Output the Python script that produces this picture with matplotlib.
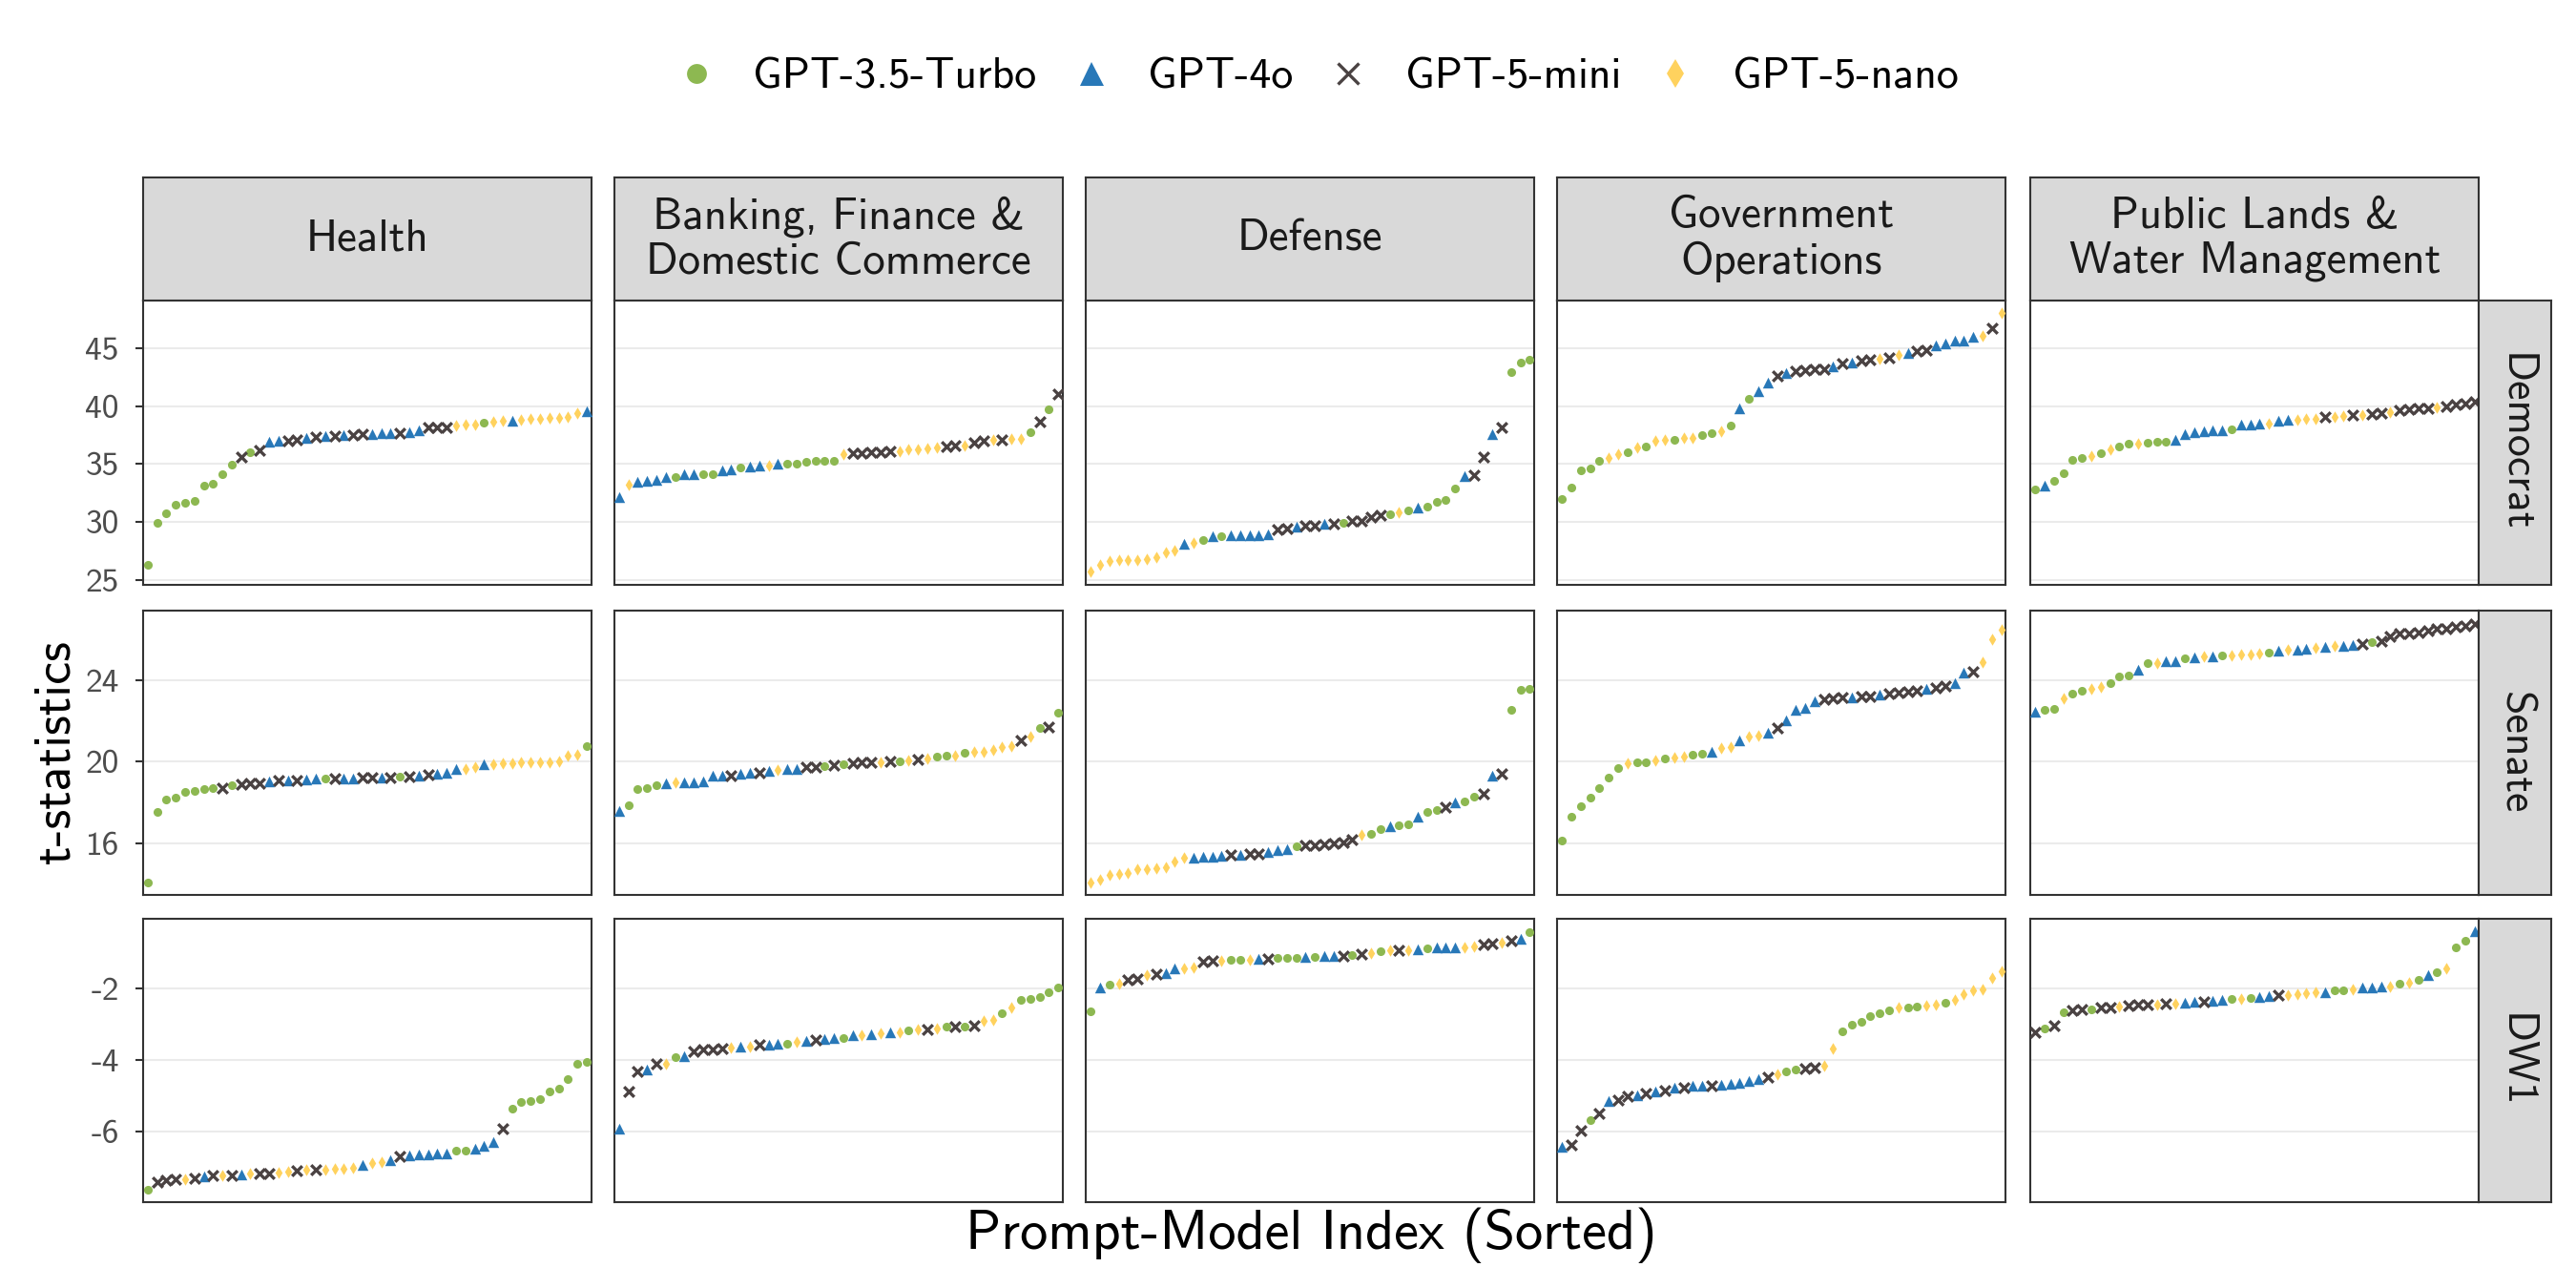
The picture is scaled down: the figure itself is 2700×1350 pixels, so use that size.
import numpy as np
import matplotlib
matplotlib.use("Agg")
import matplotlib.pyplot as plt
from matplotlib.lines import Line2D

plt.rcParams['font.family'] = ['cmss10', 'DejaVu Sans']
plt.rcParams['axes.unicode_minus'] = False
plt.rcParams['mathtext.fontset'] = 'cm'

# facets
topics = ["Health", "Banking, Finance &\nDomestic Commerce", "Defense",
          "Government\nOperations", "Public Lands &\nWater Management"]
outcomes = ["Democrat", "Senate", "DW1"]
model_names = ["GPT-3.5-Turbo", "GPT-4o", "GPT-5-mini", "GPT-5-nano"]
model_codes = ["g", "b", "x", "y"]

row_ticks = [[25, 30, 35, 40, 45], [16, 20, 24], [-6, -4, -2]]

# sorted t-statistics per panel, with the model of each point (g/b/x/y)
health_dem_m = "ggggggggggxgxbbxxbxbxbxxbbbxbbxxxyyygyybyyyyyyyb"
health_dem = [26.3, 29.95, 30.8, 31.5, 31.65, 31.85, 33.15, 33.35, 34.1, 34.95, 35.65, 36.0,
              36.2, 36.95, 37.0, 37.03, 37.05, 37.25, 37.3, 37.4, 37.42, 37.52, 37.54, 37.57,
              37.62, 37.64, 37.66, 37.68, 37.72, 37.95, 38.12, 38.15, 38.18, 38.3, 38.38, 38.43,
              38.6, 38.65, 38.7, 38.76, 38.79, 38.86, 38.93, 38.96, 38.98, 39.03, 39.38, 39.57]

banking_dem_m = "bybbbbgbbggbbgbbybggggggyxxxxxyyyyyxxyxxyxyygxgx"
banking_dem = [32.2, 33.2, 33.5, 33.55, 33.65, 33.88, 33.92, 34.1, 34.12, 34.14, 34.16, 34.5,
               34.52, 34.7, 34.82, 34.84, 34.86, 35.03, 35.05, 35.07, 35.22, 35.25, 35.27, 35.32,
               35.85, 35.92, 35.95, 36.0, 36.03, 36.08, 36.14, 36.27, 36.3, 36.33, 36.4, 36.54,
               36.57, 36.62, 36.86, 37.0, 37.08, 37.12, 37.14, 37.16, 37.76, 38.68, 39.7, 41.05]

defense_dem_m = "yyyyyyyyyybygbgbbbbbxxbxxbxgxxxxgygbggggbxxbxggg"
defense_dem = [25.73, 26.32, 26.68, 26.72, 26.74, 26.78, 26.86, 27.0, 27.43, 27.54, 28.16, 28.2,
               28.43, 28.78, 28.82, 28.84, 28.88, 28.9, 28.92, 28.95, 29.38, 29.43, 29.65, 29.72,
               29.74, 29.86, 29.89, 29.97, 30.1, 30.14, 30.46, 30.6, 30.65, 30.86, 31.05, 31.24,
               31.35, 31.76, 31.95, 32.9, 34.0, 34.05, 35.62, 37.59, 38.14, 42.89, 43.76, 43.97]

govops_dem_m = "gggggyygygyygyyggygbgbbxbxxxxbxbxxyxybxxbbbbbyxy"
govops_dem = [32.03, 32.95, 34.43, 34.59, 35.27, 35.51, 35.86, 36.03, 36.46, 36.51, 37.03, 37.05,
              37.07, 37.22, 37.27, 37.49, 37.7, 37.86, 38.3, 39.76, 40.65, 41.27, 42.03, 42.57,
              42.81, 43.0, 43.08, 43.14, 43.18, 43.43, 43.65, 43.78, 43.89, 43.97, 44.08, 44.16,
              44.43, 44.59, 44.7, 44.84, 45.19, 45.38, 45.59, 45.65, 45.97, 46.05, 46.68, 47.97]

lands_dem_m = "gbggggygyggyggg" + "bbbbbbgbbbybbyyyxyyxyxxyxxxxyxxxx"
lands_dem = [32.81, 33.16, 33.57, 34.19, 35.38, 35.51, 35.73, 35.95, 36.3, 36.49, 36.73, 36.8,
             36.82, 36.89, 36.92, 37.08, 37.57, 37.73, 37.81, 37.89, 37.94, 37.97, 38.42, 38.44,
             38.48, 38.5, 38.76, 38.78, 38.84, 38.89, 38.92, 39.08, 39.1, 39.16, 39.19, 39.24,
             39.32, 39.41, 39.49, 39.65, 39.73, 39.78, 39.84, 39.92, 39.97, 40.11, 40.24, 40.38]

health_sen_m = "ggggggggxgxxxbxbxbbgxbbxxbxgxbxbbbyybyyyyyyyyyyg"
health_sen = [14.09, 17.55, 18.12, 18.22, 18.52, 18.55, 18.65, 18.68, 18.71, 18.82, 18.89, 18.93,
              18.95, 19.05, 19.06, 19.08, 19.09, 19.14, 19.15, 19.16, 19.17, 19.18, 19.19, 19.2,
              19.21, 19.22, 19.23, 19.24, 19.25, 19.32, 19.34, 19.42, 19.44, 19.63, 19.65, 19.71,
              19.85, 19.87, 19.91, 19.93, 19.94, 19.95, 19.96, 19.98, 20.03, 20.28, 20.34, 20.75]

banking_sen_m = "bggggbybbbbbxbbxbybbxxgxgxxxyxgyxyggygyyyyyxygxg"
banking_sen = [17.57, 17.86, 18.66, 18.68, 18.82, 18.94, 18.96, 18.99, 19.0, 19.05, 19.3, 19.32,
               19.33, 19.38, 19.43, 19.45, 19.55, 19.57, 19.62, 19.64, 19.73, 19.75, 19.78, 19.82,
               19.86, 19.92, 19.94, 19.96, 19.97, 20.0, 20.02, 20.06, 20.12, 20.17, 20.22, 20.28,
               20.31, 20.45, 20.47, 20.49, 20.55, 20.71, 20.74, 21.02, 21.2, 21.63, 21.71, 22.4]

defense_sen_m = "yyyyyyyyyyybbbbxbxxbbbgxxxxxxyggbggbggxbggxbxggg"
defense_sen = [14.09, 14.2, 14.45, 14.5, 14.52, 14.73, 14.75, 14.78, 14.82, 15.09, 15.29, 15.31,
               15.33, 15.35, 15.4, 15.42, 15.44, 15.47, 15.49, 15.55, 15.66, 15.71, 15.86, 15.9,
               15.92, 15.94, 15.97, 16.06, 16.2, 16.4, 16.45, 16.68, 16.82, 16.86, 16.91, 17.29,
               17.51, 17.63, 17.75, 18.02, 18.06, 18.29, 18.4, 19.32, 19.4, 22.55, 23.51, 23.58]

govops_sen_m = "gggggggyggygyyggbyybyybxbbbbxxxbxxbxxxxbxxbbxyyy"
govops_sen = [16.14, 17.29, 17.83, 18.22, 18.71, 19.2, 19.69, 19.93, 19.95, 19.97, 20.05, 20.14,
              20.18, 20.25, 20.34, 20.37, 20.48, 20.68, 20.71, 21.02, 21.2, 21.25, 21.43, 21.63,
              22.02, 22.55, 22.63, 22.94, 23.06, 23.09, 23.12, 23.16, 23.18, 23.2, 23.28, 23.32,
              23.38, 23.43, 23.48, 23.55, 23.6, 23.71, 23.86, 24.36, 24.38, 24.86, 25.97, 26.43]

lands_sen_m = "bggyggyygggbgybbgbybgyyyygbybbybybbxgxxxxxxxxxxx"
lands_sen = [22.45, 22.52, 22.58, 23.09, 23.32, 23.45, 23.55, 23.66, 23.82, 24.15, 24.22, 24.48,
             24.81, 24.83, 24.91, 24.93, 25.05, 25.12, 25.14, 25.16, 25.17, 25.18, 25.22, 25.25,
             25.28, 25.35, 25.44, 25.46, 25.48, 25.51, 25.55, 25.62, 25.64, 25.67, 25.69, 25.74,
             25.83, 25.89, 26.14, 26.25, 26.28, 26.32, 26.4, 26.48, 26.51, 26.58, 26.66, 26.74]

health_dw1_m = "gxxxyxbxyxbyxxyyxyxyyyybyybxbbbbbggbbbxggggggggg"
health_dw1 = [-7.61, -7.39, -7.35, -7.33, -7.31, -7.28, -7.23, -7.22, -7.21, -7.2, -7.18, -7.17,
              -7.17, -7.16, -7.12, -7.11, -7.07, -7.05, -7.04, -7.04, -7.03, -7.02, -7.01, -6.91,
              -6.86, -6.84, -6.79, -6.69, -6.64, -6.63, -6.62, -6.61, -6.59, -6.53, -6.52, -6.47,
              -6.38, -6.28, -5.91, -5.36, -5.15, -5.13, -5.08, -4.88, -4.78, -4.53, -4.1, -4.05]

banking_dw1_m = "bxxbxygbxxxxybyxbbgybxbbgbybybygyxygxgxyygyggggg"
banking_dw1 = [-5.91, -4.86, -4.3, -4.25, -4.1, -4.09, -3.92, -3.88, -3.75, -3.71, -3.69, -3.66,
               -3.64, -3.62, -3.61, -3.57, -3.56, -3.55, -3.53, -3.48, -3.45, -3.44, -3.4, -3.38,
               -3.37, -3.31, -3.29, -3.26, -3.25, -3.22, -3.21, -3.16, -3.14, -3.13, -3.11, -3.07,
               -3.06, -3.05, -3.03, -2.9, -2.86, -2.68, -2.52, -2.31, -2.28, -2.24, -2.09, -1.97]

defense_dw1_m = "gbgyxxyxbbyyxxyggybxgggbgbbxgxygyxybgbbbyyxxyxbg"
defense_dw1 = [-2.64, -1.97, -1.9, -1.87, -1.75, -1.73, -1.62, -1.6, -1.56, -1.44, -1.43, -1.41,
               -1.26, -1.23, -1.21, -1.2, -1.2, -1.19, -1.18, -1.17, -1.15, -1.15, -1.14, -1.12,
               -1.12, -1.1, -1.1, -1.09, -1.07, -1.04, -1.0, -0.96, -0.94, -0.93, -0.92, -0.89,
               -0.87, -0.86, -0.85, -0.84, -0.84, -0.82, -0.76, -0.75, -0.73, -0.67, -0.6, -0.43]

govops_dw1_m = "bxxgxbxxbxbxbxbbxbbbbbxyggxxyygggggg" + "yggyygyyyyyy"
govops_dw1 = [-6.41, -6.37, -5.95, -5.67, -5.48, -5.13, -5.1, -5.01, -4.97, -4.93, -4.86, -4.84,
              -4.77, -4.75, -4.72, -4.71, -4.7, -4.69, -4.66, -4.62, -4.58, -4.53, -4.46, -4.4,
              -4.31, -4.27, -4.24, -4.21, -4.14, -3.66, -3.18, -3.0, -2.92, -2.77, -2.7, -2.62,
              -2.54, -2.52, -2.51, -2.48, -2.44, -2.39, -2.31, -2.16, -2.04, -2.03, -1.69, -1.52]

lands_dw1_m = "xgxgxxgxxyxxxyxybbxbbgygbbxyyyybggybbbygygbgyggb"
lands_dw1 = [-3.21, -3.12, -3.02, -2.66, -2.61, -2.59, -2.57, -2.54, -2.52, -2.5, -2.47, -2.46,
             -2.45, -2.44, -2.43, -2.42, -2.39, -2.38, -2.37, -2.33, -2.31, -2.3, -2.28, -2.26,
             -2.24, -2.2, -2.19, -2.18, -2.16, -2.13, -2.11, -2.09, -2.06, -2.05, -2.03, -1.98,
             -1.96, -1.94, -1.93, -1.87, -1.83, -1.76, -1.62, -1.55, -1.43, -0.84, -0.67, -0.4]

panels = [
    [(health_dem_m, health_dem), (banking_dem_m, banking_dem), (defense_dem_m, defense_dem),
     (govops_dem_m, govops_dem), (lands_dem_m, lands_dem)],
    [(health_sen_m, health_sen), (banking_sen_m, banking_sen), (defense_sen_m, defense_sen),
     (govops_sen_m, govops_sen), (lands_sen_m, lands_sen)],
    [(health_dw1_m, health_dw1), (banking_dw1_m, banking_dw1), (defense_dw1_m, defense_dw1),
     (govops_dw1_m, govops_dw1), (lands_dw1_m, lands_dw1)],
]

# styles for each model
colors = {"g": "#8DB851", "b": "#2878B8", "x": "#4A4242", "y": "#FFD25E"}
markers = {"g": "o", "b": "^", "x": "x", "y": "d"}
sizes = {"g": 19, "b": 30, "x": 26, "y": 18}

border = "#333333"
fig = plt.figure(figsize=(18, 9), dpi=150)

col_left = [0.0555, 0.2385, 0.4216, 0.6046, 0.7883]
pw = 0.1741
row_bottom = [0.546, 0.305, 0.0663]
ph = 0.2207

for r in range(3):
    allv = np.concatenate([np.array(p[1]) for p in panels[r]])
    lo, hi = allv.min(), allv.max()
    pad = 0.05 * (hi - lo)
    for c in range(5):
        ax = fig.add_axes([col_left[c], row_bottom[r], pw, ph])
        codes, vals = panels[r][c]
        vals = np.array(vals)
        idx = np.arange(1, len(vals) + 1)
        for code in model_codes:
            mask = np.array([ch == code for ch in codes])
            if code == "x":
                ax.scatter(idx[mask], vals[mask], marker="x", s=sizes[code],
                           color=colors[code], linewidths=1.6, zorder=3)
            else:
                ax.scatter(idx[mask], vals[mask], marker=markers[code], s=sizes[code],
                           color=colors[code], linewidths=0, zorder=3)
        ax.set_xlim(0.5, len(vals) + 0.5)
        ax.set_ylim(lo - pad, hi + pad)
        ax.set_yticks(row_ticks[r])
        ax.grid(axis="y", color="#EBEBEB", linewidth=1.0, zorder=0)
        ax.set_axisbelow(True)
        ax.set_xticks([])
        for sp in ax.spines.values():
            sp.set_color(border)
            sp.set_linewidth(1.0)
        if c == 0:
            ax.tick_params(axis="y", length=4, width=1.0, color=border,
                           labelsize=17, labelcolor="#4D4D4D", pad=8)
        else:
            ax.tick_params(axis="y", length=0, labelleft=False)

        # top strips
        if r == 0:
            sax = fig.add_axes([col_left[c], 0.7666, pw, 0.0957])
            sax.set_facecolor("#D9D9D9")
            sax.set_xticks([])
            sax.set_yticks([])
            for sp in sax.spines.values():
                sp.set_color(border)
                sp.set_linewidth(1.0)
            sax.text(0.5, 0.5, topics[c], ha="center", va="center", fontsize=22.5,
                     color="#1A1A1A", transform=sax.transAxes, linespacing=1.15)

    # right strips
    rax = fig.add_axes([0.9624, row_bottom[r], 0.0281, ph])
    rax.set_facecolor("#D9D9D9")
    rax.set_xticks([])
    rax.set_yticks([])
    for sp in rax.spines.values():
        sp.set_color(border)
        sp.set_linewidth(1.0)
    rax.text(0.5, 0.5, outcomes[r], ha="center", va="center", fontsize=22,
             color="#1A1A1A", rotation=-90, transform=rax.transAxes)

# legend
handles = []
leg_sizes = {"g": 10, "b": 12, "x": 11, "y": 10}
for code, name in zip(model_codes, model_names):
    handles.append(Line2D([], [], linestyle="none", marker=markers[code],
                          markersize=leg_sizes[code], color=colors[code],
                          markeredgewidth=1.6 if code == "x" else 0, label=name))
fig.legend(handles=handles, loc="center", bbox_to_anchor=(0.511, 0.94), ncol=4,
           frameon=False, fontsize=22, handlelength=1.0, handletextpad=0.8,
           columnspacing=0.75)

fig.text(0.022, 0.4165, "t-statistics", rotation=90, ha="center", va="center", fontsize=26)
fig.text(0.509, 0.041, "Prompt-Model Index (Sorted)", ha="center", va="center", fontsize=28)

fig.savefig("out.png", dpi=150)
